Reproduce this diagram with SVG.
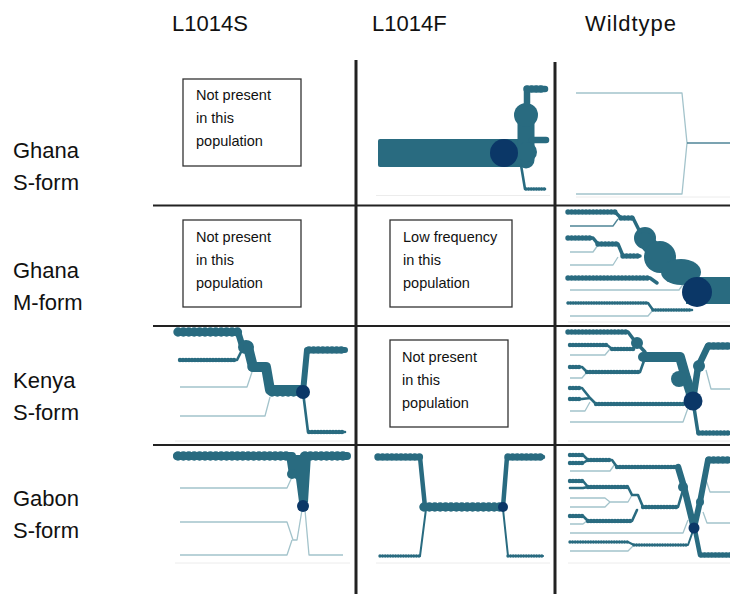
<svg xmlns="http://www.w3.org/2000/svg" width="730" height="594" viewBox="0 0 730 594">
<style>
text{font-family:"Liberation Sans",Arial,sans-serif;fill:#111}
.h{font-size:22px}
.bt{font-size:14.5px}
.grid{stroke:#222;fill:none}
.box{fill:#fff;stroke:#333;stroke-width:1.3}
.frame{fill:none;stroke:#ececec;stroke-width:1}
.s{fill:none;stroke:#296b80;stroke-linecap:round;stroke-linejoin:round}
.l{fill:none;stroke:#a3c3cb;stroke-width:1.3;stroke-linejoin:round}
.m{fill:none;stroke:#4f8597;stroke-width:1.3;stroke-linejoin:round}
.f{fill:#296b80}
.d{fill:#0b3767}
.b3{stroke-width:3.4;stroke-dasharray:0 2.6}
.b4{stroke-width:4.4;stroke-dasharray:0 3}
.b5{stroke-width:5.4;stroke-dasharray:0 3.6}
.b7{stroke-width:7.4;stroke-dasharray:0 4.6}
.b9{stroke-width:9.4;stroke-dasharray:0 5.4}
.w2{stroke-width:2}.w3{stroke-width:2.6}.w4{stroke-width:3.5}.w5{stroke-width:4.5}.w6{stroke-width:6}.w7{stroke-width:6.5}.w8{stroke-width:8}.w10{stroke-width:10}
</style>

<g id="headers">
<text class="h" x="172" y="31">L1014S</text>
<text class="h" x="372" y="31">L1014F</text>
<text class="h" x="585" y="31" textLength="91">Wildtype</text>
</g>
<g id="row-labels">
<text class="h" x="13" y="158">Ghana</text><text class="h" x="13" y="190">S-form</text>
<text class="h" x="13" y="278">Ghana</text><text class="h" x="13" y="310">M-form</text>
<text class="h" x="13" y="388">Kenya</text><text class="h" x="13" y="420">S-form</text>
<text class="h" x="13" y="506">Gabon</text><text class="h" x="13" y="538">S-form</text>
</g>

<g id="grid">
<path class="grid" stroke-width="2" d="M153,205.5H730M153,326H730M153,445H730"/>
<path class="grid" stroke-width="3" d="M356,60V594M555,62V594"/>
</g>

<g id="frames">
<path class="frame" d="M376,195.5H550M576,197H730M568,322H730M175,441H350M568,441H730M175,563H350M376,563H550M568,563H730"/>
</g>

<g id="ghana-s-l1014s">
<rect class="box" x="183" y="79" width="118" height="87"/>
<text class="bt" x="196" y="100">Not present</text>
<text class="bt" x="196" y="123">in this</text>
<text class="bt" x="196" y="146">population</text>
</g>
<g id="ghana-m-l1014s">
<rect class="box" x="183" y="220" width="118" height="87"/>
<text class="bt" x="196" y="242">Not present</text>
<text class="bt" x="196" y="265">in this</text>
<text class="bt" x="196" y="288">population</text>
</g>
<g id="ghana-m-l1014f">
<rect class="box" x="390" y="220" width="122" height="87"/>
<text class="bt" x="403" y="242">Low frequency</text>
<text class="bt" x="403" y="265">in this</text>
<text class="bt" x="403" y="288">population</text>
</g>
<g id="kenya-s-l1014f">
<rect class="box" x="390" y="340" width="118" height="87"/>
<text class="bt" x="402" y="362">Not present</text>
<text class="bt" x="402" y="385">in this</text>
<text class="bt" x="402" y="408">population</text>
</g>

<g id="connectors">
<g id="ghana-s-l1014f">
<rect class="f" x="378" y="139" width="144" height="28" rx="2"/>
<path class="s" stroke-width="17" d="M526,118V160"/>
<circle class="f" cx="526" cy="115" r="12"/>
<circle class="f" cx="527" cy="152" r="10"/>
<path class="s w7" d="M527,103V89H545"/>
<path class="s b7" d="M527,89H545"/>
<path class="s w7" d="M532,140H546"/>
<path class="s w3" d="M521,165L525,189H545"/>
<path class="s b3" d="M526,189H545"/>
<circle class="d" cx="504" cy="153" r="14"/>
</g>
<g id="ghana-s-wt">
<path class="l" d="M576,93H682L687,143L682,194H576"/>
<path class="m" d="M687,143H730"/>
</g>
<g id="ghana-m-wt">
<path class="l" d="M570,252H593L598,245M570,265H613L618,257M570,290H679L684,283M570,316H648L653,310"/>
<path class="m" d="M570,226H613L618,219"/>
<path class="s w4" d="M568,212H615L621,218H633L640,232"/>
<path class="s b5" d="M568,212H615M621,218H633"/>
<path class="s w4" d="M568,238H593L598,244H618L623,256H640"/>
<path class="s b5" d="M568,238H593M598,244H618M623,256H640"/>
<path class="s w4" d="M568,278H650L657,283"/>
<path class="s b5" d="M568,278H650"/>
<path class="s w3" d="M568,303H648L653,310H692"/>
<path class="s b3" d="M568,303H648M653,310H690"/>
<circle class="f" cx="645" cy="238" r="11"/>
<path class="s" stroke-width="16" d="M645,240L660,257L680,273"/>
<circle class="f" cx="660" cy="257" r="16"/>
<ellipse class="f" cx="681" cy="272" rx="20" ry="13"/>
<rect class="f" x="686" y="277" width="44" height="27"/>
<circle class="d" cx="697" cy="292" r="15"/>
</g>
<g id="kenya-s-l1014s">
<path class="l" d="M180,387H247L252,372M180,416H265L270,397"/>
<path class="s w7" d="M178,332H238L242,345"/>
<path class="s b9" d="M178,332H238"/>
<path class="s w3" d="M180,360H237L242,350"/>
<path class="s b4" d="M180,360H237"/>
<ellipse class="f" cx="246" cy="347" rx="8" ry="7"/>
<path class="s w10" d="M248,347L253,367H266L270,390H303"/>
<path class="s b9" d="M252,367H266M272,392H302"/>
<path class="s w6" d="M303,392L307,350H345"/>
<path class="s b7" d="M309,350H345"/>
<path class="s w3" d="M303,392L308,432H345"/>
<path class="s b4" d="M309,432H345"/>
<circle class="d" cx="303" cy="392" r="7"/>
</g>
<g id="kenya-s-wt">
<path class="l" d="M570,355H605L610,349M570,378H582L587,372M570,411H585L590,402M570,422H683L688,408M706,370L711,389H730"/>
<path class="s w4" d="M568,332H628L634,340L645,352"/>
<path class="s b5" d="M568,332H628"/>
<path class="s w3" d="M570,345H607L612,349H634"/>
<path class="s b4" d="M570,345H607M612,349H634"/>
<circle class="f" cx="637" cy="343" r="6"/>
<path class="s w10" d="M643,357H680L686,378L693,400"/>
<path class="s b9" d="M645,357H680"/>
<circle class="f" cx="679" cy="379" r="8"/>
<path class="s w3" d="M570,367H582L587,372H640L645,358"/>
<path class="s b4" d="M570,367H582M587,372H640"/>
<path class="s w3" d="M570,388H582L590,398M570,399H582L590,398L596,404H688"/>
<path class="s b4" d="M570,388H582M570,399H582M596,404H684"/>
<path class="s w7" d="M693,400L698,367L708,346H730"/>
<path class="s b7" d="M709,346H730"/>
<circle class="f" cx="699" cy="366" r="6"/>
<path class="s w4" d="M693,401L698,433H730"/>
<path class="s b5" d="M699,433H730"/>
<circle class="d" cx="693" cy="401" r="9.5"/>
</g>
<g id="gabon-s-l1014s">
<path class="l" d="M180,488H287L292,477M180,522H287L293,540H297L302,510M180,555H287L292,540M305,510L309,555H343"/>
<path class="s w8" d="M177,456H292M304,456H347"/>
<path class="s b9" d="M178,456H291M305,456H346"/>
<path class="f" d="M286,455L289,475L296,479L299,502H308L311,455Z"/>
<circle class="f" cx="292" cy="474" r="5"/>
<circle class="d" cx="303" cy="506" r="6"/>
</g>
<g id="gabon-s-l1014f">
<path class="s w5" d="M378,457H420L425,507"/>
<path class="s b7" d="M378,457H420"/>
<path class="s w7" d="M423,507H502"/>
<path class="s b9" d="M424,507H501"/>
<path class="s w5" d="M503,507L507,457H543"/>
<path class="s b7" d="M508,457H543"/>
<path class="s w2" d="M426,509L420,556H380M503,509L508,556H543"/>
<path class="s b3" d="M380,556H420M508,556H543"/>
<circle class="d" cx="503" cy="507" r="5"/>
</g>
<g id="gabon-s-wt">
<path class="l" d="M570,471H610L615,464M570,498H605L610,502L605,507H570M610,502H628L632,495M570,524H583L588,520M570,533H683L688,520M570,551H628L633,546M706,480L710,492H730M703,512L707,523H730"/>
<path class="s w3" d="M570,455H583L588,460M570,463H583L588,460H612L617,467H678"/>
<path class="s b4" d="M570,455H583M570,463H583M588,460H612M617,467H678"/>
<path class="s w3" d="M570,481H583L588,487M570,488H583L588,487H628L632,495H638L643,507H678L683,490"/>
<path class="s b4" d="M570,481H583M588,487H628M643,507H678"/>
<path class="s w3" d="M570,516H583L588,521H632L637,510"/>
<path class="s b4" d="M570,516H583M588,521H632"/>
<path class="s w2" d="M570,542H628L634,545H688L694,528"/>
<path class="s b3" d="M570,542H628M634,545H686"/>
<path class="s w7" d="M678,467L684,487L694,528"/>
<circle class="f" cx="683" cy="487" r="5"/>
<path class="s w6" d="M694,528L700,502L708,460H730"/>
<path class="s b7" d="M709,460H730"/>
<circle class="f" cx="700" cy="502" r="4"/>
<path class="s w5" d="M695,530L700,555H730"/>
<path class="s b5" d="M701,555H730"/>
<circle class="d" cx="694" cy="528" r="5.5"/>
</g>
</g>
</svg>
